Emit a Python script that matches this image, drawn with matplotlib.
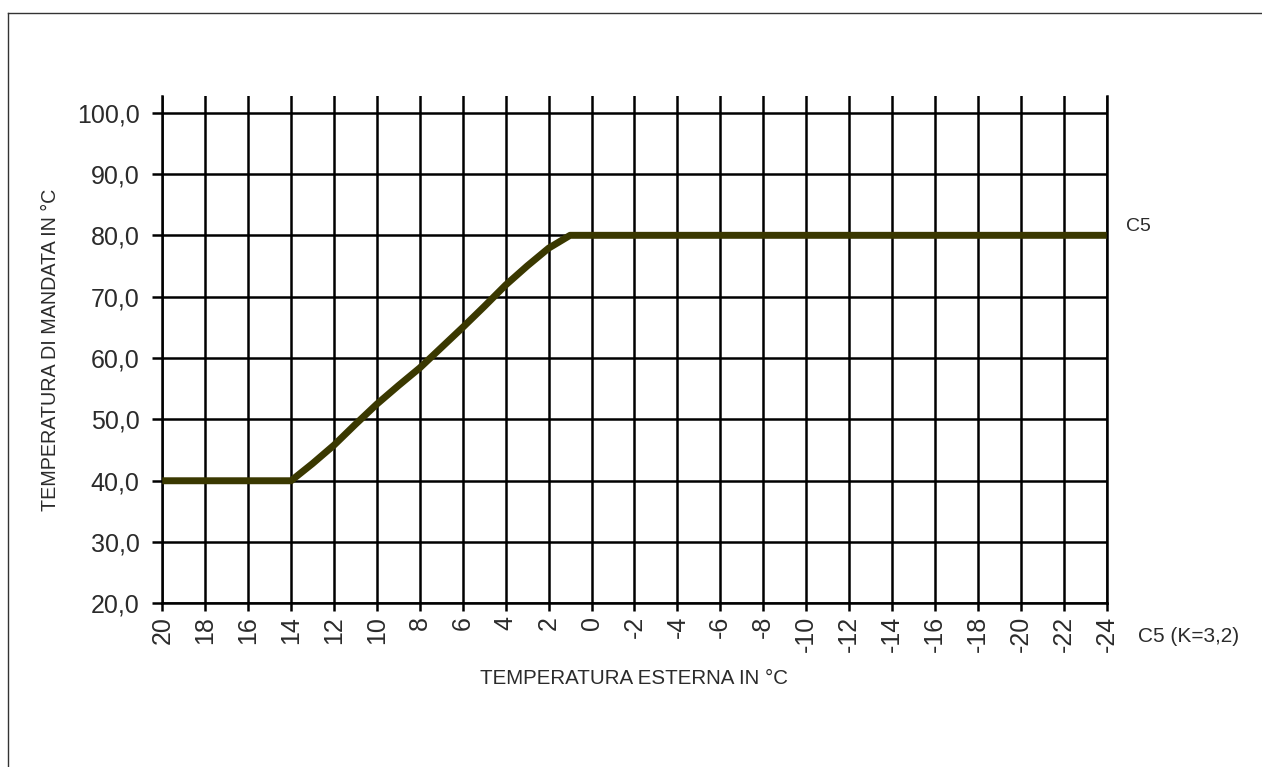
import matplotlib
matplotlib.use("Agg")
import matplotlib.pyplot as plt
from matplotlib.lines import Line2D

plt.rcParams['font.family'] = ['Liberation Sans', 'DejaVu Sans']
plt.rcParams['axes.unicode_minus'] = False

# Heating curve C5 (K=3,2): outdoor temperature -> supply temperature
outdoor_temp = [20, 14, 13, 12, 11, 10, 9, 8, 7, 6, 5, 4, 3, 2, 1, -24]
supply_temp = [40, 40, 42.8, 45.8, 49.2, 52.5, 55.5, 58.4, 61.7, 65.0, 68.4, 71.9, 75.0, 77.9, 80, 80]

x_ticks = list(range(20, -25, -2))
x_tick_labels = [str(v) for v in x_ticks]
y_ticks = [20, 30, 40, 50, 60, 70, 80, 90, 100]
y_tick_labels = [f"{v},0" for v in y_ticks]

curve_name = "C5"
curve_caption = "C5 (K=3,2)"
x_label = "TEMPERATURA ESTERNA IN °C"
y_label = "TEMPERATURA DI MANDATA IN °C"

text_color = "#2b2b2b"
curve_color = "#3a3800"

fig = plt.figure(figsize=(12.62, 7.67), dpi=100)
ax = fig.add_axes([0.1286, 0.2132, 0.7483, 0.6616])

ax.plot(outdoor_temp, supply_temp, color=curve_color, lw=5.0,
        solid_joinstyle='round', solid_capstyle='butt', zorder=3)

ax.set_xlim(20, -24)
ax.set_ylim(20, 102.7)

ax.set_xticks(x_ticks)
ax.set_xticklabels(x_tick_labels, rotation=90, fontsize=18, color=text_color)
ax.set_yticks(y_ticks)
ax.set_yticklabels(y_tick_labels, fontsize=18, color=text_color)

ax.tick_params(axis='x', direction='out', length=6, width=1.8, pad=3, color='black')
ax.tick_params(axis='y', direction='out', length=7.5, width=1.8, pad=9, color='black')

ax.grid(True, color='black', lw=1.8, zorder=1)
ax.set_axisbelow(True)
ax.spines['top'].set_visible(False)
for side in ('left', 'right', 'bottom'):
    ax.spines[side].set_linewidth(1.8)
    ax.spines[side].set_color('black')

ax.set_xlabel(x_label, fontsize=14.8, color=text_color, labelpad=12)
ax.set_ylabel(y_label, fontsize=14.2, color=text_color, labelpad=12)

# curve name at the right end of the line, caption beside the x tick labels
ax.text(1.021, (80 - 20) / (102.7 - 20), curve_name, transform=ax.transAxes,
        fontsize=14, color=text_color, ha='left', va='bottom')
ax.text(1.033, -0.065, curve_caption, transform=ax.transAxes,
        fontsize=15, color=text_color, ha='left', va='center')

# frame lines along top and left of the figure
fig.add_artist(Line2D([8 / 1262, 1], [1 - 13 / 767, 1 - 13 / 767],
                      transform=fig.transFigure, color='#333333', lw=1.0))
fig.add_artist(Line2D([8 / 1262, 8 / 1262], [0, 1 - 13 / 767],
                      transform=fig.transFigure, color='#333333', lw=1.0))

fig.savefig("out.png", dpi=100, facecolor='white')
